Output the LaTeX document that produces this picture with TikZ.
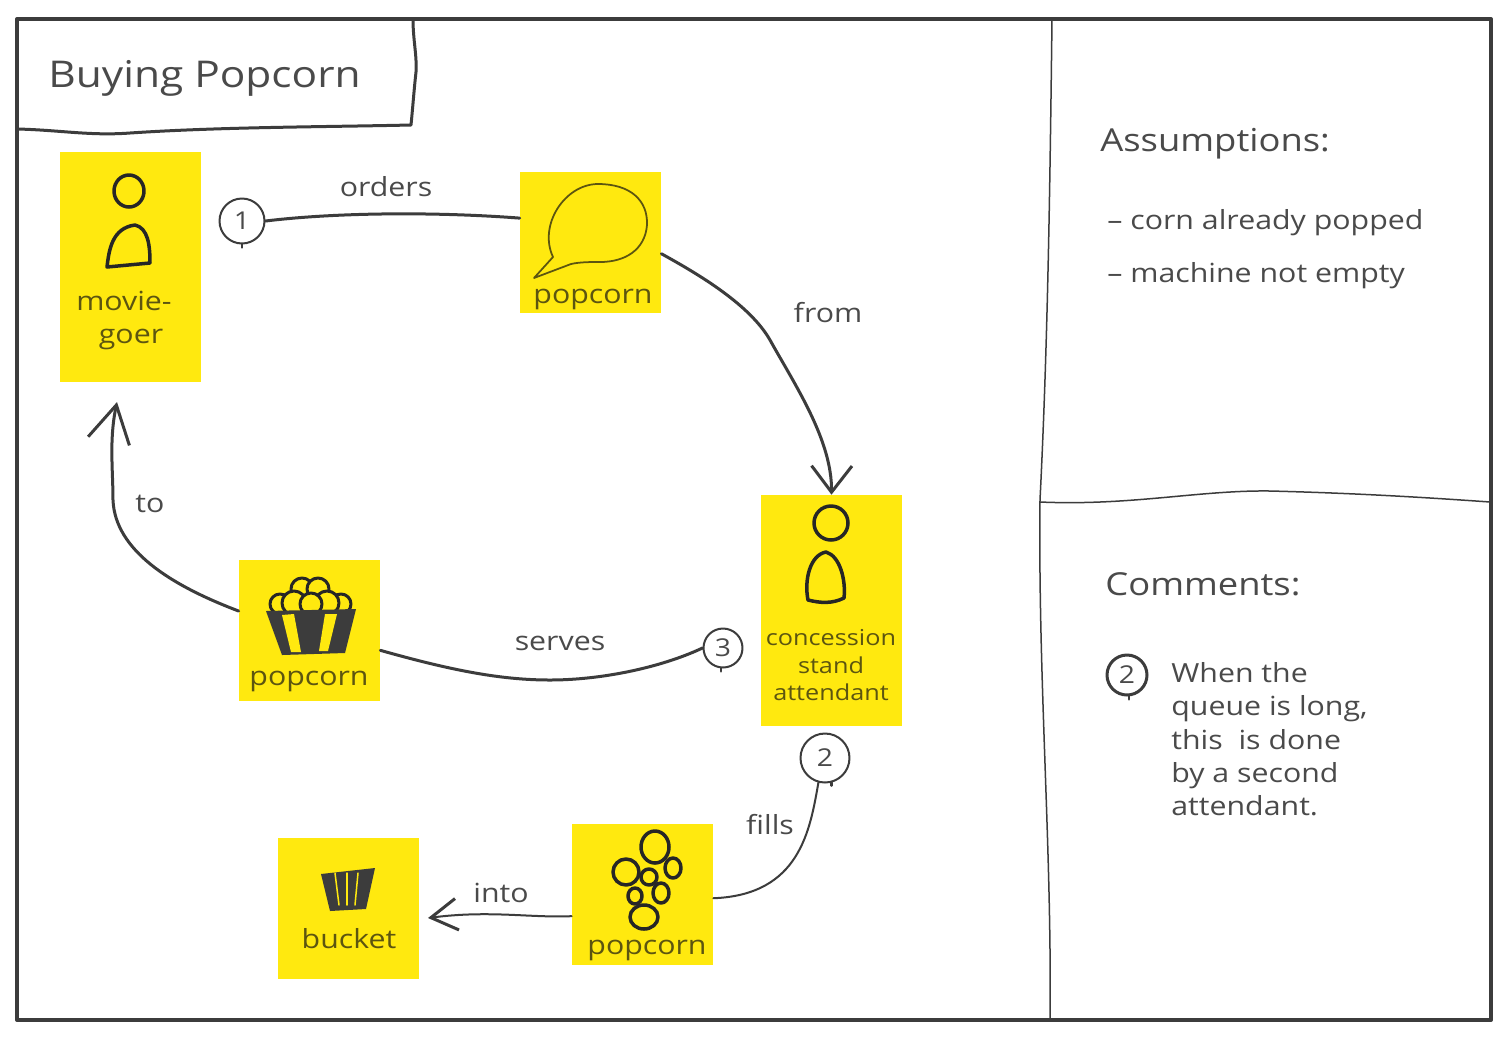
\documentclass[tikz,border=0pt]{standalone}
\usepackage{fontspec}
\setmainfont[FakeStretch=1.15]{Open Sans}
\usetikzlibrary{arrows.meta}
\definecolor{noteyellow}{HTML}{FFE90F}
\definecolor{inkdark}{HTML}{3C3C3C}
\definecolor{inktext}{HTML}{4A4A4A}
\definecolor{inkolive}{HTML}{5C5510}
\tikzset{
	note/.style={fill=noteyellow,minimum width=2.82cm,minimum height=2.82cm,inner sep=0pt},
	talllnote/.style={note,minimum height=4.62cm},
	conn/.style={draw=inkdark,line width=.06cm,line cap=round,line join=round},
	badge/.style={circle,draw=inkdark,line width=.04cm,fill=white,inner sep=0pt,text=inktext,font=\fontsize{14}{14}\selectfont},
	lbl/.style={text=inktext,inner sep=0pt,font=\fontsize{15}{15}\selectfont},
	boxlbl/.style={text=inkolive,inner sep=0pt,font=\fontsize{15}{15}\selectfont},
	sidelbl/.style={lbl,anchor=base west},
	icon/.style={draw=black!85,line width=.07cm,line join=round},
	barb/.style 2 args={-{Straight Barb[length=#1,width=#2,line width=.06cm]}}
}
\begin{document}
\begin{tikzpicture}[x=.02cm,y=-.02cm,line cap=round,line join=round]
	\useasboundingbox[fill=white] (0,0) rectangle (1508,1036);
	%frame
	\draw[inkdark,line width=.08cm] (17,19) rectangle (1491,1020);
	\draw[inkdark,line width=.06cm] (17,129) .. controls (60,130) and (90,136) .. (130,133) .. controls (220,127) and (320,127) .. (411,125) .. controls (413,105) and (414,90) .. (416,72) .. controls (417,55) and (413,40) .. (413,19);
	\draw[inkdark,line width=.03cm] (1052,20) .. controls (1050,180) and (1048,340) .. (1040,500) .. controls (1038,680) and (1052,850) .. (1050,1020);
	\draw[inkdark,line width=.03cm] (1040,502) .. controls (1130,506) and (1200,490) .. (1270,491) .. controls (1350,493) and (1420,497) .. (1490,502);
	\node[text=inktext,anchor=base west,inner sep=0pt,font=\fontsize{21}{21}\selectfont] (title) at (48,87) {Buying Popcorn};
	%notes
	\node[talllnote] (moviegoer) at (130.5,267) {};
	\node[note] (order) at (590.5,242.5) {};
	\node[talllnote] (attendant) at (831.5,610.5) {};
	\node[note] (served) at (309.5,630) {};
	\node[note] (kernels) at (642.5,894.5) {};
	\node[note] (bucket) at (348.5,908.5) {};
	%people
	\draw[icon] (129,191) ellipse (15 and 16);
	\draw[icon] (107,267) .. controls (109,250) and (112,228) .. (135,225) .. controls (148,228) and (150,245) .. (150,263) -- cycle;
	\draw[icon] (831,523) circle (17);
	\draw[icon] (808,600) .. controls (804,580) and (810,555) .. (826,552) .. controls (840,556) and (846,580) .. (844,598) .. controls (832,604) and (820,603) .. (808,600) -- cycle;
	%speech bubble
	\draw[draw=inkolive,line width=.035cm] (534,278) -- (553,257) .. controls (538,225) and (565,184) .. (598,184) .. controls (630,184) and (648,200) .. (647,225) .. controls (645,250) and (625,262) .. (600,262) .. controls (590,262) and (580,262) .. (571,264) -- cycle;
	%popcorn tub
	\foreach \kx/\ky/\kr in {302/589/11,318/589/11,280/604/10,341/604/10,294/603/12,327/603/12,311/604/11}
		\draw[icon,fill=noteyellow,line width=.06cm] (\kx,\ky) circle (\kr);
	\fill[inkdark] (266,611) -- (356,609) -- (345,653) -- (282,655) -- cycle;
	\fill[noteyellow] (282,615) -- (294,614) -- (301,652) -- (291,652) -- cycle;
	\fill[noteyellow] (325,614) -- (337,614) -- (328,651) -- (319,651) -- cycle;
	%kernels
	\foreach \kx/\ky/\krx/\kry in {655/847/14/16,626/872/13/13,649/877/8/8,673/868/8/10,635/896/7/8,661/893/8/10,644/917/14/12}
		\draw[icon] (\kx,\ky) ellipse ({\krx} and {\kry});
	%small bucket
	\fill[inkdark] (321,874) -- (375,868) -- (366,909) -- (330,911) -- cycle;
	\foreach \sx/\tx in {335/339,347/347,358/355}
		\draw[noteyellow,line width=.03cm] (\sx,873) -- (\tx,905);
	%note labels
	\node[boxlbl] (moviea) at (124,301) {movie-};
	\node[boxlbl] (movieb) at (131,339) {goer};
	\node[boxlbl] (speechtxt) at (593,299) {popcorn};
	\node[boxlbl,font=\fontsize{12.5}{12.5}\selectfont] (atta) at (831,638) {concession};
	\node[boxlbl,font=\fontsize{12.5}{12.5}\selectfont] (attb) at (831,665) {stand};
	\node[boxlbl,font=\fontsize{12.5}{12.5}\selectfont] (attc) at (831,692) {attendant};
	\node[boxlbl] (tubtxt) at (309,681) {popcorn};
	\node[boxlbl] (kerneltxt) at (647,950) {popcorn};
	\node[boxlbl] (buckettxt) at (349,939) {bucket};
	%badges
	\node[badge,minimum size=.9cm] (stepone) at (242,221) {1};
	\node[badge,minimum size=.98cm] (steptwo) at (825,758) {2};
	\node[badge,minimum size=.78cm] (stepthree) at (723,648) {3};
	\node[badge,minimum size=.8cm,line width=.06cm] (steptwonote) at (1127,675) {2};
	\foreach \bname/\bang in {stepone/-90,steptwo/-75,stepthree/-95,steptwonote/-85}
		\draw[inkdark,line width=.05cm] (\bname.\bang) -- ++(0,3);
	%free ends
	\coordinate (totip) at (117,402);
	\coordinate (intotip) at (428,918);
	%connectors
	\draw[conn] (stepone.east) .. controls (340,212) and (440,212) .. (order.161);
	\draw[conn,barb={15pt}{23pt}] (order.-9) .. controls (700,275) and (750,305) .. (770,340) .. controls (795,385) and (832,440) .. (attendant.north);
	\draw[conn] (served.-16) .. controls (450,670) and (500,680) .. (550,680) .. controls (600,680) and (660,668) .. (stepthree.west);
	\draw[conn,barb={21pt}{24pt}] (served.165) .. controls (170,585) and (115,550) .. (113,500) .. controls (113,470) and (109,440) .. (totip);
	\draw[conn,line width=.04cm] (steptwo.-105) .. controls (810,830) and (800,895) .. (kernels.-3);
	\draw[conn,barb={15pt}{18pt},line width=.04cm] (kernels.197) .. controls (530,918) and (490,910) .. (intotip);
	%connector labels
	\node[lbl] (orders) at (386,187) {orders};
	\node[lbl] (from) at (828,313) {from};
	\node[lbl] (to) at (150,504) {to};
	\node[lbl] (serves) at (560,643) {serves};
	\node[lbl] (fills) at (770,825) {fills};
	\node[lbl] (into) at (501,893) {into};
	%side panels
	\node[sidelbl,font=\fontsize{18}{18}\selectfont] (assume) at (1100,151) {Assumptions:};
	\node[sidelbl] (assumea) at (1107,229) {– corn already popped};
	\node[sidelbl] (assumeb) at (1107,282) {– machine not empty};
	\node[sidelbl,font=\fontsize{18}{18}\selectfont] (comments) at (1105,595) {Comments:};
	\node[sidelbl] (linea) at (1171,682) {When the};
	\node[sidelbl] (lineb) at (1171,715) {queue is long,};
	\node[sidelbl] (linec) at (1171,749) {this\ \ is done};
	\node[sidelbl] (lined) at (1171,782) {by a second};
	\node[sidelbl] (linee) at (1171,815) {attendant.};
\end{tikzpicture}
\end{document}
